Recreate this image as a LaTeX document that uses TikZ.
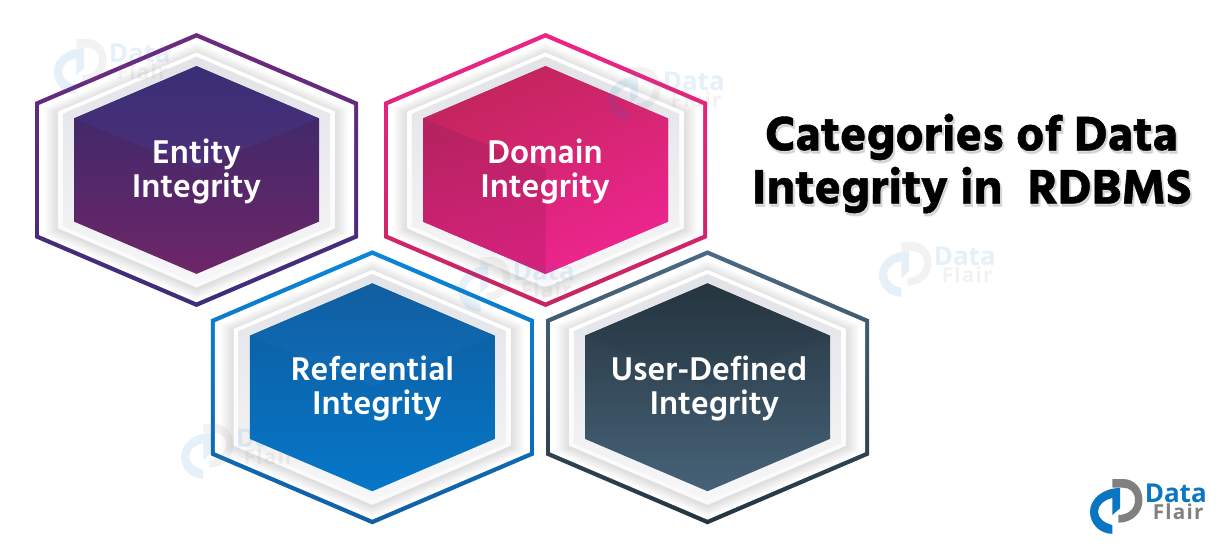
\documentclass[tikz,border=0pt]{standalone}
\usepackage{fontspec}
\setmainfont{Hind Madurai}
\newfontfamily\titlefont[FakeBold=0.9]{Hind Madurai Bold}
\newfontfamily\titleback[FakeBold=3.5]{Hind Madurai Bold}
\newfontfamily\logofont{Open Sans}
\newfontfamily\flairfont[LetterSpace=6]{Open Sans Bold}
\usetikzlibrary{shadings}
\definecolor{wmblue}{HTML}{0A75C2}
\definecolor{wmgrey}{HTML}{808080}
\definecolor{HexBandTop}{HTML}{E2E3E7}
\definecolor{HexBandBot}{HTML}{F7F7F9}
\definecolor{HA1}{HTML}{6F2A7E}\definecolor{HA2}{HTML}{3C2D7C}
\definecolor{HA3}{HTML}{342A6A}\definecolor{HA4}{HTML}{6E2668}
\definecolor{HA5}{HTML}{382F76}\definecolor{HA6}{HTML}{4D2F78}
\definecolor{HB1}{HTML}{EC2488}\definecolor{HB2}{HTML}{C82461}
\definecolor{HB3}{HTML}{C2255B}\definecolor{HB4}{HTML}{EE2590}
\definecolor{HB5}{HTML}{B72260}\definecolor{HB6}{HTML}{D4227C}
\definecolor{HC1}{HTML}{0A86D8}\definecolor{HC2}{HTML}{115FA5}
\definecolor{HC3}{HTML}{0F5B9C}\definecolor{HC4}{HTML}{0577C9}
\definecolor{HC5}{HTML}{115EA0}\definecolor{HC6}{HTML}{0F6DB8}
\definecolor{HD1}{HTML}{4A6A85}\definecolor{HD2}{HTML}{25353F}
\definecolor{HD3}{HTML}{26353F}\definecolor{HD4}{HTML}{466278}
\definecolor{HD5}{HTML}{26353F}\definecolor{HD6}{HTML}{324858}
\tikzset{
  x=0.75pt,y=-0.75pt,
  label text/.style={text=white,align=center,font=\bfseries\fontsize{25.3}{25.6}\selectfont,inner sep=0pt},
  title text/.style={align=center,font=\titlefont\fontsize{37.2}{39.8}\selectfont,inner sep=0pt},
  logo data/.style={anchor=base west,inner sep=0pt,font=\logofont\bfseries\fontsize{19.5}{20}\selectfont},
  logo flair/.style={anchor=base west,inner sep=0pt,font=\flairfont\fontsize{15.5}{16}\selectfont},
}
\newcommand{\hexp}[1]{(0,{-137*#1}) -- ({161.5*#1},{-68*#1}) -- ({161.5*#1},{68*#1}) -- (0,{137*#1}) -- ({-161.5*#1},{68*#1}) -- ({-161.5*#1},{-68*#1}) -- cycle}
% centre x, centre y, line top, line bottom, base top, base bottom
\newcommand{\hexbox}[6]{%
  \begin{scope}[shift={(#1,#2)}]
    \shade[top color=#3,bottom color=#4] \hexp{1};
    \fill[white] (0,-132.3) -- (157.5,-65) -- (157.5,65) -- (0,132.3) -- (-157.5,65) -- (-157.5,-65) -- cycle;
    \foreach \k in {1,...,16}{
      \fill[black,opacity=0.0065,yshift={-1pt}] \hexp{(0.858+0.0052*(17-\k))};
    }
    \shade[top color=white,bottom color=white!96!gray] \hexp{0.858};
    \shade[top color=HexBandTop,bottom color=HexBandBot] \hexp{0.827};
    \shade[top color=#5,bottom color=#6] \hexp{0.7585};
  \end{scope}}
\newcommand{\topface}[4]{%
  \begin{scope}[shift={(#1,#2)}]
    \shade[top color=#3,bottom color=#4]
      (0,{-137*0.7585}) -- ({161.5*0.7585},{-68*0.7585}) -- (0,-1) -- ({-161.5*0.7585},{-68*0.7585}) -- cycle;
  \end{scope}}
\newcommand{\dflogo}[4]{%
  \begin{scope}[shift={(#2,#3)},opacity=#4]
    \fill[wmblue] (35,13) .. controls (18,13) and (5,24) .. (5,36.7) .. controls (5,49) and (15,58.8) .. (27.3,58.8) -- (27.3,50) .. controls (19,48) and (13,43) .. (13,36.7) .. controls (13,30) and (19,25) .. (27.3,23) -- (27.3,40) -- (35,33.3) -- cycle;
    \fill[wmgrey] (27.3,4) -- (38,4) .. controls (49,4) and (57.5,13) .. (57.5,25) .. controls (57.5,38) and (47,47.7) .. (33.3,47.7) -- (33.3,40) .. controls (43,40) and (50,34) .. (50,25) .. controls (50,17) and (45,12.7) .. (38,12.7) -- (27.3,12.7) -- cycle;
    \node[logo data,text=wmblue] (#1d) at (59.5,27) {Data};
    \node[logo flair,text=wmgrey] (#1f) at (67.5,44) {Flair};
  \end{scope}}
\begin{document}
\begin{tikzpicture}
\useasboundingbox (0,0) rectangle (1220,550);
\fill[white] (0,0) rectangle (1220,550);
% upper row
\hexbox{196.5}{170}{HA1}{HA2}{HA3}{HA4}
\topface{196.5}{170}{HA5}{HA6}
\hexbox{545.5}{170}{HB1}{HB2}{HB3}{HB4}
\begin{scope}[shift={(545.5,170)}]
  \shade[shading=axis,top color=HB3,bottom color=HB4,shading angle=25] \hexp{0.7585};
  \shade[shading=axis,top color=HB5,bottom color=HB6,shading angle=15]
    ({-161.5*0.7585},{-68*0.7585}) -- (0,-1) -- (0,{137*0.7585}) -- ({-161.5*0.7585},{68*0.7585}) -- cycle;
\end{scope}
% lower row
\hexbox{372.3}{387.3}{HC1}{HC2}{HC3}{HC4}
\topface{372.3}{387.3}{HC5}{HC6}
\hexbox{707.5}{387.3}{HD1}{HD2}{HD3}{HD4}
\topface{707.5}{387.3}{HD5}{HD6}
% watermarks
\dflogo{wa}{49}{35}{0.1}
\dflogo{wb}{603}{63}{0.1}
\dflogo{wc}{874}{238}{0.1}
\dflogo{wd}{453}{253}{0.1}
\dflogo{we}{176}{420}{0.1}
\dflogo{main}{1085}{475}{1}
% labels
\node[label text] (lent) at (196.5,171.5) {Entity\\Integrity};
\node[label text] (ldom) at (545,171.5) {Domain\\Integrity};
\node[label text] (lref) at (372.5,388.5) {Referential\\\hspace*{6.5pt}Integrity};
\node[label text] (lusr) at (709,388.5) {User-Defined\\\hspace*{8pt}Integrity};
% title
\node[title text,text=black!25,opacity=0.5,font=\titleback\fontsize{37.2}{39.8}\selectfont] (tshadow) at (973,166) {Categories of Data\\Integrity in\ \ RDBMS};
\node[title text,text=black] (title) at (971.5,163.5) {Categories of Data\\Integrity in\ \ RDBMS};
\end{tikzpicture}
\end{document}
